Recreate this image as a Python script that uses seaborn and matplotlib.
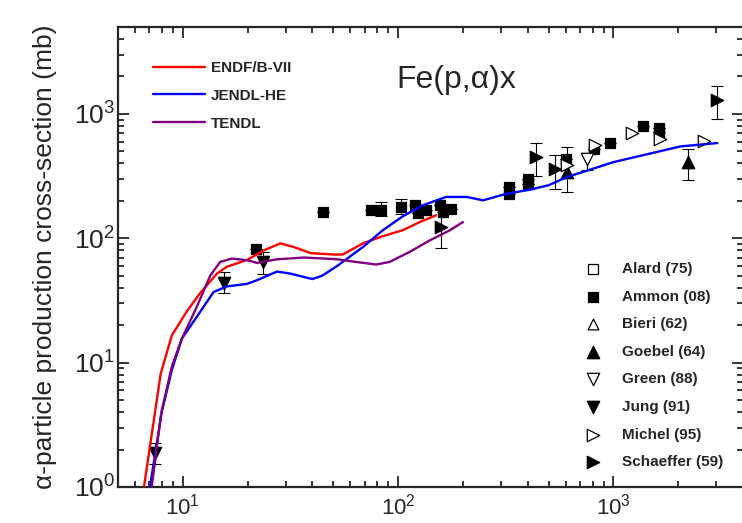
import numpy as np
import pandas as pd
import matplotlib
matplotlib.use("Agg")
import matplotlib.pyplot as plt
import seaborn as sns
from matplotlib.lines import Line2D

# --- evaluated libraries (energy in MeV, cross-section in mb) ---
endf_e = [6.3, 6.6, 7.9, 8.9, 10.4, 12.0, 14.4, 16.0, 19.9, 23.8, 28.4, 32.8,
          39.2, 50.4, 55.3, 68.6, 84.9, 105, 126, 150]
endf_xs = [0.6, 1.0, 8.2, 16.6, 25.6, 36.0, 52, 59, 67, 80, 91, 85,
           76, 74, 74, 91, 104, 116, 135, 153]

jendl_e = [6.8, 7.04, 7.98, 8.89, 9.9, 11.6, 13.9, 16.0, 19.9, 22.1, 27.4, 31.6,
           39.9, 44.4, 52.2, 68.6, 84.9, 105, 130, 167, 208, 248, 319, 410,
           500, 609, 1003, 2050, 3040]
jendl_xs = [0.6, 1.0, 4.0, 8.7, 15.6, 23.3, 37, 41, 43, 46, 54, 52,
            47, 50, 60, 85, 116, 150, 184, 215, 215, 202, 228, 246,
            267, 311, 410, 548, 583]

tendl_e = [6.9, 7.17, 7.93, 8.89, 9.9, 11.6, 13.4, 14.9, 16.9, 19.9, 22.1, 27.4,
           36.6, 52.2, 63.8, 79, 91.2, 113, 140, 174, 200]
tendl_xs = [0.6, 1.0, 3.9, 9.3, 15.6, 28, 50, 64.5, 68.7, 66.6, 63.4, 67.8,
            70, 67.8, 64.5, 61.5, 64.5, 77.6, 96, 116, 135]

# --- experimental data ---
alard_e, alard_xs = [], []
bieri_e, bieri_xs = [], []

ammon_e = [21.8, 44.6, 75, 83.5, 103.5, 119.5, 123.7, 135, 156, 161.7, 177,
           329, 329, 400, 400, 601, 809, 968, 1374, 1626, 1626]
ammon_xs = [82.7, 162.6, 170, 170, 178, 184, 159.6, 170, 184, 162.6, 173,
            260, 225, 300, 275, 436, 525, 585, 794, 775, 720]
ammon_lo = [82.7, 162.6, 170, 150, 156, 184, 159.6, 170, 184, 162.6, 173,
            260, 225, 300, 275, 436, 525, 585, 794, 775, 720]
ammon_hi = [82.7, 162.6, 170, 196, 206, 184, 159.6, 170, 184, 162.6, 173,
            260, 225, 300, 275, 436, 525, 585, 794, 775, 720]

goebel_e = [609, 2218]
goebel_xs = [341, 410]
goebel_lo = [235, 292]
goebel_hi = [545, 525]

green_e = [754]
green_xs = [436]
green_lo = [356]
green_hi = [480]

jung_e = [7.43, 15.6, 23.6]
jung_xs = [1.86, 43.8, 64.5]
jung_lo = [1.52, 36, 52]
jung_hi = [2.27, 53.6, 77.6]

michel_e = [609, 818, 1222, 1640, 2637]
michel_xs = [386, 558, 701, 632, 601]

schaeffer_e = [159, 437, 537, 3040]
schaeffer_xs = [123, 450, 363, 1283]
schaeffer_lo = [84, 315, 251, 915]
schaeffer_hi = [180, 583, 464, 1663]

sns.set_style("ticks")
plt.rcParams["font.family"] = ["Liberation Sans", "DejaVu Sans"]
plt.rcParams["axes.unicode_minus"] = False

fig = plt.figure(figsize=(7.42, 5.23), dpi=100)
ax = fig.add_axes([118 / 742, 1 - 487 / 523, 625 / 742, 460 / 523])

# evaluated curves
libs = pd.concat([
    pd.DataFrame({"E": endf_e, "xs": endf_xs, "lib": "ENDF/B-VII"}),
    pd.DataFrame({"E": jendl_e, "xs": jendl_xs, "lib": "JENDL-HE"}),
    pd.DataFrame({"E": tendl_e, "xs": tendl_xs, "lib": "TENDL"}),
])
palette = {"ENDF/B-VII": "#ff0000", "JENDL-HE": "#0000ff", "TENDL": "#800080"}
sns.lineplot(data=libs, x="E", y="xs", hue="lib", palette=palette, sort=False,
             estimator=None, lw=1.7, ax=ax, zorder=3, legend=False)

# error bars
for e, xs, lo, hi in [
    (ammon_e, ammon_xs, ammon_lo, ammon_hi),
    (goebel_e, goebel_xs, goebel_lo, goebel_hi),
    (green_e, green_xs, green_lo, green_hi),
    (jung_e, jung_xs, jung_lo, jung_hi),
    (schaeffer_e, schaeffer_xs, schaeffer_lo, schaeffer_hi),
]:
    xs = np.array(xs, dtype=float)
    yerr = [xs - np.array(lo), np.array(hi) - xs]
    ax.errorbar(e, xs, yerr=yerr, fmt="none", ecolor="black", elinewidth=0.8,
                capsize=4, capthick=0.8, zorder=1)

# experimental points
exps = [
    ("Alard (75)", alard_e, alard_xs, "s", False, 45),
    ("Ammon (08)", ammon_e, ammon_xs, "s", True, 60),
    ("Bieri (62)", bieri_e, bieri_xs, "^", False, 60),
    ("Goebel (64)", goebel_e, goebel_xs, "^", True, 80),
    ("Green (88)", green_e, green_xs, "v", False, 80),
    ("Jung (91)", jung_e, jung_xs, "v", True, 80),
    ("Michel (95)", michel_e, michel_xs, ">", False, 80),
    ("Schaeffer (59)", schaeffer_e, schaeffer_xs, ">", True, 80),
]
handles = []
for name, e, xs, m, filled, s in exps:
    fc = "black" if filled else "white"
    h = ax.scatter(e, xs, marker=m, s=s, facecolors=fc, edgecolors="black",
                   linewidths=0.9, zorder=2, label=name)
    handles.append(h)

ax.set_xscale("log")
ax.set_yscale("log")
ax.set_xlim(5, 4000)
ax.set_ylim(1, 5000)

ax.tick_params(which="both", direction="in", top=True, right=True, width=1.3)
ax.tick_params(which="major", length=8)
ax.tick_params(which="minor", length=4)
ax.tick_params(axis="x", labelsize=16, pad=5)
ax.tick_params(axis="y", labelsize=19, pad=2)
for sp in ax.spines.values():
    sp.set_linewidth(1.6)

ax.set_xlabel("")
ax.set_ylabel("α-particle production cross-section (mb)", fontsize=19, labelpad=12)

ax.text(0.542, 0.867, "Fe(p,α)x", transform=ax.transAxes, fontsize=23,
        ha="center", va="baseline")

# legends
line_handles = [Line2D([], [], color=palette[k], lw=1.7) for k in palette]
leg1 = ax.legend(line_handles, list(palette), loc="upper left",
                 bbox_to_anchor=(0.056, 0.926), borderaxespad=0, borderpad=0,
                 frameon=False, handlelength=3.4, handletextpad=0.4,
                 labelspacing=0.9, prop={"weight": "bold", "size": 11})
ax.add_artist(leg1)
ax.legend(handles=handles, loc="upper left", bbox_to_anchor=(0.747, 0.489),
          borderaxespad=0, borderpad=0, frameon=False, handlelength=1.0,
          handletextpad=1.46, labelspacing=0.89, scatterpoints=1,
          prop={"weight": "bold", "size": 11})

fig.savefig("out.png", dpi=100)
